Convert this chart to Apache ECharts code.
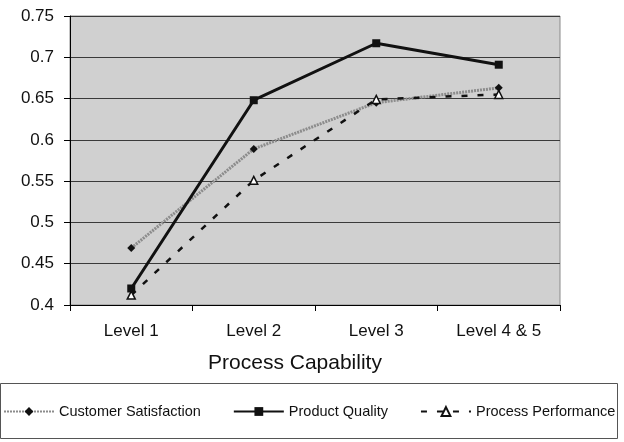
<!DOCTYPE html>
<html>
<head>
<meta charset="utf-8">
<script src="https://cdn.jsdelivr.net/npm/echarts@6/dist/echarts.min.js"></script>
<style>
  html, body { margin: 0; padding: 0; background: #fff; }
  #chart { width: 624px; height: 442px; }
</style>
</head>
<body>
<div id="chart"></div>
<script>
// Categories along the x axis
var levels = ['Level 1', 'Level 2', 'Level 3', 'Level 4 & 5'];

// Series values per capability level
var customerSatisfaction = [0.469, 0.589, 0.645, 0.663];
var productQuality = [0.420, 0.648, 0.717, 0.691];
var processPerformance = [0.412, 0.551, 0.649, 0.655];

// Value axis ticks
var yTicks = [0.4, 0.45, 0.5, 0.55, 0.6, 0.65, 0.7, 0.75];

var font = 'Liberation Sans, Arial, sans-serif';

var chart = echarts.init(document.getElementById('chart'), null, { renderer: 'canvas' });

chart.setOption({
  animation: false,
  backgroundColor: '#ffffff',
  grid: {
    left: 70, right: 64, top: 16, bottom: 137,
    show: true,
    backgroundColor: '#d0d0d0',
    borderColor: '#8a8a8a',
    borderWidth: 1
  },
  legend: {
    left: 3,
    top: 404,
    padding: 0,
    itemWidth: 50,
    itemHeight: 11,
    itemGap: 32,
    textStyle: { fontFamily: font, fontSize: 14.5, color: '#111' },
    data: ['Customer Satisfaction', 'Product Quality', 'Process Performance']
  },
  graphic: [
    {
      type: 'rect',
      shape: { x: 0.5, y: 383.5, width: 617, height: 55 },
      style: { fill: 'none', stroke: '#555', lineWidth: 1 },
      silent: true
    },
    {
      type: 'text',
      x: 295, y: 363,
      style: {
        text: 'Process Capability',
        fontFamily: font,
        fontSize: 21,
        fill: '#111',
        textAlign: 'center',
        textVerticalAlign: 'middle'
      }
    }
  ],
  xAxis: {
    type: 'category',
    data: levels,
    boundaryGap: true,
    axisLine: { lineStyle: { color: '#000', width: 1 } },
    axisTick: { show: true, length: 6, inside: false, lineStyle: { color: '#000' } },
    axisLabel: { fontFamily: font, fontSize: 17, color: '#111', margin: 18 },
    splitLine: { show: false }
  },
  yAxis: {
    type: 'value',
    min: yTicks[0],
    max: yTicks[yTicks.length - 1],
    interval: 0.05,
    axisLine: { show: true, lineStyle: { color: '#000', width: 1 } },
    axisTick: { show: true, length: 6, lineStyle: { color: '#000' } },
    axisLabel: {
      fontFamily: font, fontSize: 17, color: '#111', margin: 16,
      formatter: function (v) {
        var best = yTicks.reduce(function (a, b) { return Math.abs(b - v) < Math.abs(a - v) ? b : a; });
        return String(best);
      }
    },
    splitLine: { show: true, lineStyle: { color: '#3a3a3a', width: 1 } }
  },
  series: [
    {
      name: 'Customer Satisfaction',
      type: 'line',
      data: customerSatisfaction,
      symbol: 'diamond',
      symbolSize: 8,
      itemStyle: { color: '#111' },
      lineStyle: { color: '#8c8c8c', width: 3, type: [2, 1] },
      z: 2
    },
    {
      name: 'Product Quality',
      type: 'line',
      data: productQuality,
      symbol: 'rect',
      symbolSize: 8,
      itemStyle: { color: '#111' },
      lineStyle: { color: '#111', width: 3 },
      z: 4
    },
    {
      name: 'Process Performance',
      type: 'line',
      data: processPerformance,
      symbol: 'triangle',
      symbolSize: 8,
      itemStyle: { color: '#fff', borderColor: '#111', borderWidth: 1.5 },
      lineStyle: { color: '#111', width: 2.5, type: [6, 10] },
      z: 3
    }
  ]
});
</script>
</body>
</html>
